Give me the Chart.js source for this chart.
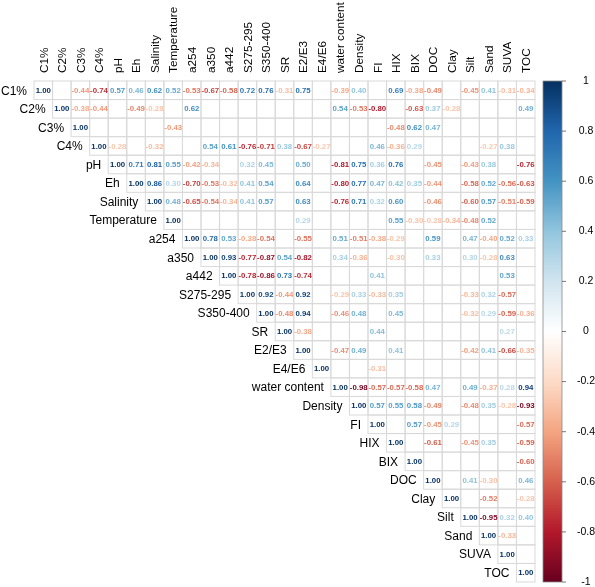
<!DOCTYPE html>
<html><head><meta charset="utf-8">
<script src="https://cdn.jsdelivr.net/npm/chart.js@4.4.1/dist/chart.umd.min.js"></script>
<style>html,body{margin:0;padding:0;background:#fff;overflow:hidden}canvas{display:block}</style>
</head><body>
<canvas id="c" width="595" height="587" style="width:595px;height:587px"></canvas>
<script>
// Variables (rows = columns)
const variables = ['C1%','C2%','C3%','C4%','pH','Eh','Salinity','Temperature','a254','a350','a442','S275-295','S350-400','SR','E2/E3','E4/E6','water content','Density','FI','HIX','BIX','DOC','Clay','Silt','Sand','SUVA','TOC'];

// Upper-triangle rows, each starting at its diagonal cell (null = not shown)
const rowC1   = [1.00,null,-0.44,-0.74,0.57,0.46,0.62,0.52,-0.53,-0.67,-0.58,0.72,0.76,-0.31,0.75,null,-0.39,0.40,null,0.69,-0.38,-0.49,null,-0.45,0.41,-0.31,-0.34];
const rowC2   = [1.00,-0.38,-0.44,null,-0.49,-0.28,null,0.62,null,null,null,null,null,null,null,0.54,-0.53,-0.80,null,-0.63,0.37,-0.28,null,null,null,0.49];
const rowC3   = [1.00,null,null,null,null,-0.43,null,null,null,null,null,null,null,null,null,null,null,-0.48,0.62,0.47,null,null,null,null,null];
const rowC4   = [1.00,-0.28,null,-0.32,null,null,0.54,0.61,-0.76,-0.71,0.38,-0.67,-0.27,null,null,0.46,-0.36,0.29,null,null,null,-0.27,0.38,null];
const rowPH   = [1.00,0.71,0.81,0.55,-0.42,-0.34,null,0.32,0.45,null,0.50,null,-0.81,0.75,0.36,0.76,null,-0.45,null,-0.43,0.38,null,-0.76];
const rowEh   = [1.00,0.86,0.30,-0.70,-0.53,-0.32,0.41,0.54,null,0.64,null,-0.80,0.77,0.47,0.42,0.35,-0.44,null,-0.58,0.52,-0.56,-0.63];
const rowSal  = [1.00,0.48,-0.65,-0.54,-0.34,0.41,0.57,null,0.63,null,-0.76,0.71,0.32,0.60,null,-0.46,null,-0.60,0.57,-0.51,-0.59];
const rowTemp = [1.00,null,null,null,null,null,null,0.29,null,null,null,null,0.55,-0.30,-0.28,-0.34,-0.48,0.52,null,null];
const rowA254  = [1.00,0.78,0.53,-0.38,-0.54,null,-0.55,null,0.51,-0.51,-0.38,-0.29,null,0.59,null,0.47,-0.40,0.52,0.33];
const rowA350  = [1.00,0.93,-0.77,-0.87,0.54,-0.82,null,0.34,-0.36,null,-0.30,null,0.33,null,0.30,-0.28,0.63,null];
const rowA442  = [1.00,-0.78,-0.86,0.73,-0.74,null,null,null,0.41,null,null,null,null,null,null,0.53,null];
const rowS275  = [1.00,0.92,-0.44,0.92,null,-0.29,0.33,-0.33,0.35,null,null,null,-0.33,0.32,-0.57,null];
const rowS350  = [1.00,-0.48,0.94,null,-0.46,0.48,null,0.45,null,null,null,-0.32,0.29,-0.59,-0.36];
const rowSR    = [1.00,-0.38,null,null,null,0.44,null,null,null,null,null,null,0.27,null];
const rowE2E3  = [1.00,null,-0.47,0.49,null,0.41,null,null,null,-0.42,0.41,-0.66,-0.35];
const rowE4E6  = [1.00,null,null,-0.31,null,null,null,null,null,null,null,null];
const rowWater = [1.00,-0.98,-0.57,-0.57,-0.58,0.47,null,0.49,-0.37,0.28,0.94];
const rowDens  = [1.00,0.57,0.55,0.58,-0.49,null,-0.48,0.35,-0.28,-0.93];
const rowFI    = [1.00,null,0.57,-0.45,0.29,null,null,null,-0.57];
const rowHIX   = [1.00,null,-0.61,null,-0.45,0.35,null,-0.59];
const rowBIX   = [1.00,null,null,null,null,null,-0.60];
const rowDOC   = [1.00,null,0.41,-0.30,null,0.46];
const rowClay  = [1.00,null,-0.52,null,-0.28];
const rowSilt  = [1.00,-0.95,0.32,0.40];
const rowSand  = [1.00,-0.33,null];
const rowSUVA  = [1.00,null];
const rowTOC   = [1.00];

const upperRows = [rowC1,rowC2,rowC3,rowC4,rowPH,rowEh,rowSal,rowTemp,rowA254,rowA350,rowA442,rowS275,rowS350,rowSR,rowE2E3,rowE4E6,rowWater,rowDens,rowFI,rowHIX,rowBIX,rowDOC,rowClay,rowSilt,rowSand,rowSUVA,rowTOC];

// Colour bar ticks
const colorbarTicks = [1,0.8,0.6,0.4,0.2,0,-0.2,-0.4,-0.6,-0.8,-1];
const colorbarLabels = ['1','0.8','0.6','0.4','0.2','0','-0.2','-0.4','-0.6','-0.8','-1'];

// RdBu palette (corrplot COL2('RdBu')) from -1 to 1
const rdbu = ['#67001F','#B2182B','#D6604D','#F4A582','#FDDBC7','#FFFFFF','#D1E5F0','#92C5DE','#4393C3','#2166AC','#053061'];

function hex2rgb(h){return [parseInt(h.substr(1,2),16),parseInt(h.substr(3,2),16),parseInt(h.substr(5,2),16)];}
function colorFor(v){
  const t = (Math.max(-1,Math.min(1,v)) + 1) / 2 * (rdbu.length - 1);
  const i = Math.min(rdbu.length - 2, Math.floor(t));
  const f = t - i;
  const a = hex2rgb(rdbu[i]), b = hex2rgb(rdbu[i+1]);
  const c = a.map((x,k)=>Math.round(x + (b[k]-x)*f));
  return 'rgb(' + c.join(',') + ')';
}

const N = variables.length;
const points = [];
upperRows.forEach((row, i) => {
  row.forEach((v, k) => {
    const j = i + k;
    if (v !== null) points.push({x: j + 0.5, y: i + 0.5, v: v});
  });
});

const FONT = '"Liberation Sans", Arial, sans-serif';

const corrPlugin = {
  id: 'corr',
  beforeDatasetsDraw(chart){
    const ctx = chart.ctx, xs = chart.scales.x, ys = chart.scales.y, cb = chart.scales.cb;
    ctx.save();
    // grid cells of upper triangle
    ctx.strokeStyle = '#d9d9d9';
    ctx.lineWidth = 1;
    for (let i = 0; i < N; i++) {
      for (let j = i; j < N; j++) {
        const x0 = xs.getPixelForValue(j), x1 = xs.getPixelForValue(j+1);
        const y0 = ys.getPixelForValue(i), y1 = ys.getPixelForValue(i+1);
        ctx.strokeRect(x0, y0, x1 - x0, y1 - y0);
      }
    }
    // row labels
    ctx.fillStyle = '#000';
    ctx.font = '12px ' + FONT;
    ctx.textAlign = 'right';
    ctx.textBaseline = 'middle';
    for (let i = 0; i < N; i++) {
      ctx.fillText(variables[i], xs.getPixelForValue(i) - 7, ys.getPixelForValue(i + 0.5) + 1);
    }
    // column labels (vertical)
    ctx.font = '11.8px ' + FONT;
    ctx.textAlign = 'left';
    for (let j = 0; j < N; j++) {
      ctx.save();
      ctx.translate(xs.getPixelForValue(j + 0.5) + 1, ys.getPixelForValue(0) - 8);
      ctx.rotate(-Math.PI / 2);
      ctx.fillText(variables[j], 0, 0);
      ctx.restore();
    }
    // colour bar
    const bx0 = 543, bx1 = 562;
    const top = cb.getPixelForValue(1), bot = cb.getPixelForValue(-1);
    const g = ctx.createLinearGradient(0, top, 0, bot);
    for (let k = 0; k < rdbu.length; k++) g.addColorStop(k / (rdbu.length - 1), rdbu[rdbu.length - 1 - k]);
    ctx.fillStyle = g;
    ctx.fillRect(bx0, top, bx1 - bx0, bot - top);
    ctx.strokeStyle = '#8a8a8a';
    ctx.lineWidth = 0.8;
    ctx.strokeRect(bx0, top, bx1 - bx0, bot - top);
    ctx.strokeStyle = '#555';
    ctx.lineWidth = 0.8;
    ctx.fillStyle = '#000';
    ctx.font = '10.5px ' + FONT;
    ctx.textAlign = 'center';
    ctx.textBaseline = 'middle';
    colorbarTicks.forEach((t, k) => {
      const y = cb.getPixelForValue(t);
      ctx.beginPath(); ctx.moveTo(bx1, y); ctx.lineTo(bx1 + 4, y); ctx.stroke();
      ctx.fillText(colorbarLabels[k], 586, y);
    });
    ctx.restore();
  },
  afterDatasetsDraw(chart){
    const ctx = chart.ctx;
    const meta = chart.getDatasetMeta(0);
    const data = chart.data.datasets[0].data;
    ctx.save();
    ctx.font = 'bold 7.8px ' + FONT;
    ctx.textAlign = 'center';
    ctx.textBaseline = 'middle';
    meta.data.forEach((pt, k) => {
      const v = data[k].v;
      ctx.fillStyle = colorFor(v);
      ctx.fillText(v.toFixed(2), pt.x, pt.y + 0.5);
    });
    ctx.restore();
  }
};

new Chart(document.getElementById('c'), {
  type: 'scatter',
  data: { datasets: [{ data: points, pointRadius: 0, pointHoverRadius: 0, showLine: false }] },
  options: {
    responsive: false,
    animation: false,
    devicePixelRatio: 1,
    layout: { padding: { left: 34, top: 81, right: 60, bottom: 5 } },
    plugins: { legend: { display: false }, tooltip: { enabled: false } },
    scales: {
      x: { type: 'linear', min: 0, max: N, display: false },
      y: { type: 'linear', min: 0, max: N, reverse: true, display: false },
      cb: { type: 'linear', axis: 'y', min: -1, max: 1, display: false }
    }
  },
  plugins: [corrPlugin]
});
</script>
</body></html>
